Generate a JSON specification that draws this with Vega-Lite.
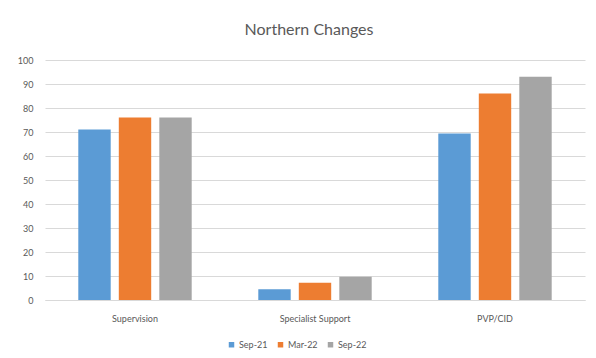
{
  "$schema": "https://vega.github.io/schema/vega-lite/v6.json",
  "autosize": "none",
  "width": 540,
  "height": 240,
  "padding": {"left": 45, "top": 60, "right": 11, "bottom": 58},
  "background": "white",
  "title": {
    "text": "Northern Changes",
    "font": "Lato",
    "fontSize": 16,
    "fontWeight": "normal",
    "color": "#595959",
    "anchor": "middle",
    "dx": -6,
    "offset": 18
  },
  "data": {
    "values": [
      {"category": "Supervision", "period": "Sep-21", "value": 71},
      {"category": "Supervision", "period": "Mar-22", "value": 76},
      {"category": "Supervision", "period": "Sep-22", "value": 76},
      {"category": "Specialist Support", "period": "Sep-21", "value": 4.5},
      {"category": "Specialist Support", "period": "Mar-22", "value": 7.2},
      {"category": "Specialist Support", "period": "Sep-22", "value": 9.7},
      {"category": "PVP/CID", "period": "Sep-21", "value": 69.4},
      {"category": "PVP/CID", "period": "Mar-22", "value": 86},
      {"category": "PVP/CID", "period": "Sep-22", "value": 93}
    ]
  },
  "mark": {"type": "bar"},
  "encoding": {
    "x": {
      "field": "category",
      "type": "nominal",
      "sort": ["Supervision", "Specialist Support", "PVP/CID"],
      "scale": {"paddingInner": 0.37, "paddingOuter": 0.185},
      "axis": {
        "title": null,
        "labelAngle": 0,
        "labelFont": "Lato",
        "labelFontSize": 9,
        "labelColor": "#595959",
        "labelPadding": 14,
        "ticks": false,
        "domainColor": "#d9d9d9",
        "grid": false
      }
    },
    "xOffset": {
      "field": "period",
      "type": "nominal",
      "sort": ["Sep-21", "Mar-22", "Sep-22"],
      "scale": {"paddingInner": 0.2, "paddingOuter": 0}
    },
    "y": {
      "field": "value",
      "type": "quantitative",
      "scale": {"domain": [0, 100]},
      "axis": {
        "title": null,
        "values": [0, 10, 20, 30, 40, 50, 60, 70, 80, 90, 100],
        "labelFont": "Lato",
        "labelFontSize": 9,
        "labelColor": "#595959",
        "labelPadding": 12,
        "ticks": false,
        "domain": false,
        "gridColor": "#d9d9d9"
      }
    },
    "color": {
      "field": "period",
      "type": "nominal",
      "sort": ["Sep-21", "Mar-22", "Sep-22"],
      "scale": {"domain": ["Sep-21", "Mar-22", "Sep-22"], "range": ["#5B9BD5", "#ED7D31", "#A5A5A5"]},
      "legend": {
        "title": null,
        "orient": "none",
        "legendX": 182,
        "legendY": 280,
        "direction": "horizontal",
        "symbolType": "square",
        "symbolSize": 30,
        "labelFont": "Lato",
        "labelFontSize": 9,
        "labelColor": "#595959",
        "labelOffset": 3,
        "columnPadding": 8
      }
    }
  },
  "config": {"view": {"stroke": null}}
}
